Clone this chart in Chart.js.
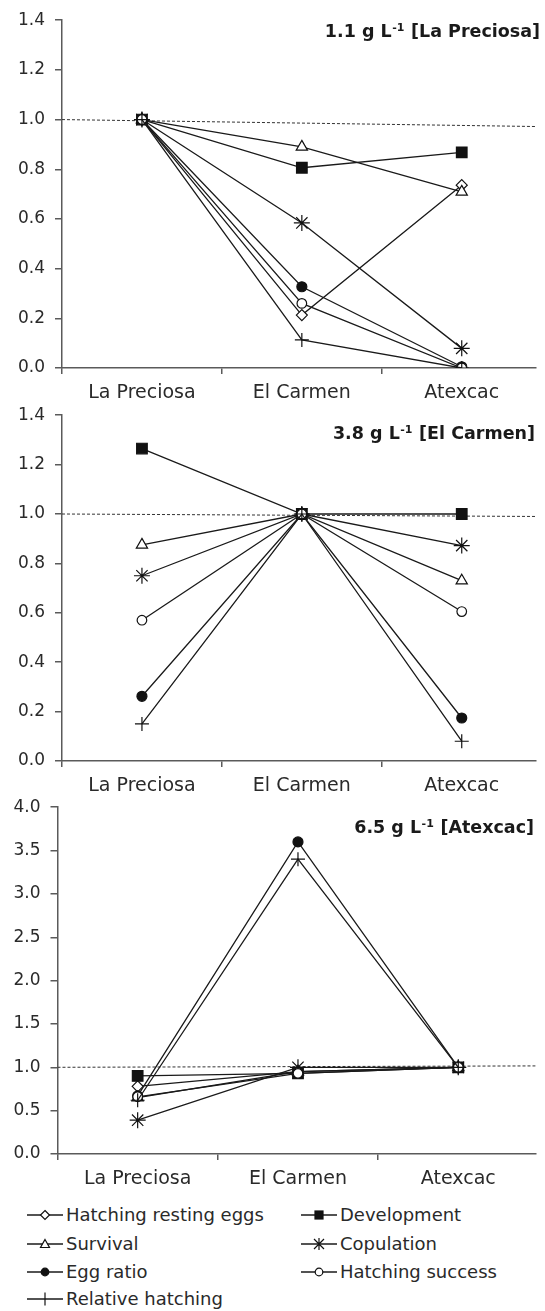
<!DOCTYPE html>
<html><head><meta charset="utf-8">
<script src="https://cdn.jsdelivr.net/npm/chart.js@4.4.1/dist/chart.umd.min.js"></script>
<style>
html,body{margin:0;padding:0;background:#fff;}
body{width:545px;height:1311px;position:relative;overflow:hidden;font-family:"DejaVu Sans",sans-serif;}
canvas{position:absolute;left:0;}
.leg{position:absolute;height:20px;font-size:18px;color:#2a2a2a;line-height:20px;white-space:nowrap;}
.leg svg{position:absolute;left:0;top:3px;}
.leg span{position:absolute;top:0;}
</style></head><body>
<canvas id="c1" width="545" height="410" style="top:0px"></canvas>
<canvas id="c2" width="545" height="408" style="top:395px"></canvas>
<canvas id="c3" width="545" height="398" style="top:787px"></canvas>
<div id="legend"></div>
<script>
// ---------- DATA ----------
const categories = ['La Preciosa', 'El Carmen', 'Atexcac'];
const seriesNames = ['Hatching resting eggs', 'Development', 'Survival', 'Copulation', 'Egg ratio', 'Hatching success', 'Relative hatching'];

// Panel 1: 1.1 g L-1 [La Preciosa]
const p1HatchingRestingEggs = [1.0, 0.213, 0.736];
const p1Development        = [1.0, 0.806, 0.868];
const p1Survival           = [1.0, 0.89, 0.709];
const p1Copulation         = [1.0, 0.584, 0.079];
const p1EggRatio           = [1.0, 0.327, 0.005];
const p1HatchingSuccess    = [1.0, 0.26, 0.0];
const p1RelativeHatching   = [1.0, 0.113, 0.0];
const p1RefLine            = [1.0, 0.972];

// Panel 2: 3.8 g L-1 [El Carmen]
const p2HatchingRestingEggs = [null, 1.0, null];
const p2Development        = [1.265, 1.0, 1.0];
const p2Survival           = [0.875, 1.0, 0.73];
const p2Copulation         = [0.75, 1.0, 0.872];
const p2EggRatio           = [0.262, 1.0, 0.174];
const p2HatchingSuccess    = [0.57, 1.0, 0.605];
const p2RelativeHatching   = [0.15, 1.0, 0.08];
const p2RefLine            = [1.0, 0.99];

// Panel 3: 6.5 g L-1 [Atexcac]
const p3HatchingRestingEggs = [0.78, 0.95, 1.0];
const p3Development        = [0.9, 0.93, 1.0];
const p3Survival           = [0.65, 0.95, 1.0];
const p3Copulation         = [0.39, 1.0, 1.0];
const p3EggRatio           = [0.67, 3.6, 1.0];
const p3HatchingSuccess    = [0.66, 0.93, 1.0];
const p3RelativeHatching   = [0.62, 3.4, 1.0];
const p3RefLine            = [1.0, 1.016];

// Tick values
const yTicks12 = [0, 0.2, 0.4, 0.6, 0.8, 1.0, 1.2, 1.4];
const yTicks3  = [0, 0.5, 1.0, 1.5, 2.0, 2.5, 3.0, 3.5, 4.0];

// Titles
const titles = [
  {pre: '1.1 g L', sup: '-1', post: ' [La Preciosa]'},
  {pre: '3.8 g L', sup: '-1', post: ' [El Carmen]'},
  {pre: '6.5 g L', sup: '-1', post: ' [Atexcac]'}
];

// ---------- STYLES ----------
const markerStyles = [
  {pointStyle: 'rectRot',  radius: 5.5, fill: '#ffffff'},
  {pointStyle: 'rect',     radius: 7.5, fill: '#111111'},
  {pointStyle: 'triangle', radius: 6.5, fill: '#ffffff'},
  {pointStyle: 'star',     radius: 8,   fill: '#ffffff'},
  {pointStyle: 'circle',   radius: 5,   fill: '#111111'},
  {pointStyle: 'circle',   radius: 4.8, fill: '#ffffff'},
  {pointStyle: 'cross',    radius: 7,   fill: '#ffffff'}
];
const AX = '#5a5a5a';
const TXT = '#2a2a2a';
const FONT = '"DejaVu Sans", sans-serif';

const titlePlugin = {
  id: 'panelTitle',
  afterDraw(chart, args, o) {
    const ctx = chart.ctx;
    ctx.save();
    const big = 'bold 17.5px ' + FONT, small = 'bold 11px ' + FONT;
    ctx.font = big;
    const w1 = ctx.measureText(o.pre).width, w3 = ctx.measureText(o.post).width;
    ctx.font = small;
    const w2 = ctx.measureText(o.sup).width;
    let x = o.right - (w1 + w2 + w3 + 1);
    ctx.fillStyle = '#1a1a1a';
    ctx.textAlign = 'left';
    ctx.textBaseline = 'alphabetic';
    ctx.font = big; ctx.fillText(o.pre, x, o.y); x += w1;
    ctx.font = small; ctx.fillText(o.sup, x + 0.5, o.y - 6); x += w2 + 1;
    ctx.font = big; ctx.fillText(o.post, x, o.y);
    ctx.restore();
  }
};

function makePanel(id, seriesArrays, refLine, yMax, yTickVals, geom, title) {
  const xMax = (545 - geom.left) / geom.band;
  const datasets = seriesArrays.map((arr, i) => {
    const s = markerStyles[i];
    return {
      label: seriesNames[i],
      data: arr.map((v, k) => ({x: k + 0.5, y: v})),
      borderColor: '#1a1a1a',
      borderWidth: 1.3,
      pointStyle: s.pointStyle,
      pointRadius: s.radius,
      pointBackgroundColor: s.fill,
      pointBorderColor: '#111',
      pointBorderWidth: 1.2,
      tension: 0,
      spanGaps: false,
      order: 7 - i
    };
  });
  datasets.push({
    label: 'ref',
    data: [{x: 0, y: refLine[0]}, {x: xMax, y: refLine[1]}],
    borderColor: '#333',
    borderWidth: 1,
    borderDash: [3, 2],
    pointRadius: 0,
    order: 20
  });
  return new Chart(document.getElementById(id), {
    type: 'line',
    data: {datasets},
    plugins: [titlePlugin],
    options: {
      responsive: false,
      animation: false,
      devicePixelRatio: 1,
      layout: {padding: {top: geom.top, right: 0, left: 0, bottom: 0}},
      plugins: {
        legend: {display: false},
        tooltip: {enabled: false},
        panelTitle: {pre: title.pre, sup: title.sup, post: title.post, right: geom.titleRight, y: geom.titleY}
      },
      scales: {
        x: {
          type: 'linear', position: 'bottom', min: 0, max: xMax, weight: 0,
          ticks: {display: false, stepSize: 1, includeBounds: false},
          grid: {display: true, drawOnChartArea: false, drawTicks: true, tickLength: 6, color: AX, lineWidth: 1.5},
          border: {display: true, color: AX, width: 1.5},
          afterFit: s => { s.height = 6; }
        },
        x2: {
          type: 'linear', position: 'bottom', min: 0, max: xMax, weight: 1,
          afterBuildTicks: s => { s.ticks = categories.map((c, k) => ({value: k + 0.5})); },
          ticks: {autoSkip: false, maxRotation: 0, padding: geom.labelPad,
                  font: {family: FONT, size: 19}, color: TXT,
                  callback: (v, k) => categories[k]},
          grid: {display: false, drawTicks: false},
          border: {display: false},
          afterFit: s => { s.height = geom.x2h; }
        },
        y: {
          min: 0, max: yMax,
          afterBuildTicks: s => { s.ticks = yTickVals.map(v => ({value: v})); },
          ticks: {font: {family: FONT, size: 17}, color: TXT, padding: 10,
                  callback: v => v.toFixed(1)},
          grid: {display: true, drawOnChartArea: false, drawTicks: true, tickLength: 7, color: AX, lineWidth: 1.5},
          border: {display: true, color: AX, width: 1.5},
          afterFit: s => { s.width = geom.left; }
        }
      }
    }
  });
}

makePanel('c1',
  [p1HatchingRestingEggs, p1Development, p1Survival, p1Copulation, p1EggRatio, p1HatchingSuccess, p1RelativeHatching],
  p1RefLine, 1.4, yTicks12,
  {left: 62, band: 163, top: 20, x2h: 36, labelPad: 8, titleRight: 540, titleY: 37}, titles[0]);
makePanel('c2',
  [p2HatchingRestingEggs, p2Development, p2Survival, p2Copulation, p2EggRatio, p2HatchingSuccess, p2RelativeHatching],
  p2RefLine, 1.4, yTicks12,
  {left: 62, band: 163, top: 20, x2h: 36, labelPad: 8, titleRight: 535, titleY: 44}, titles[1]);
makePanel('c3',
  [p3HatchingRestingEggs, p3Development, p3Survival, p3Copulation, p3EggRatio, p3HatchingSuccess, p3RelativeHatching],
  p3RefLine, 4.0, yTicks3,
  {left: 57.5, band: 163.4, top: 20, x2h: 25, labelPad: 8, titleRight: 534, titleY: 46}, titles[2]);

// ---------- LEGEND (HTML) ----------
function legendSvg(i) {
  const s = markerStyles[i];
  const cx = 18, cy = 7;
  let m = '';
  const st = 'stroke="#111" stroke-width="1.2"';
  switch (s.pointStyle) {
    case 'rectRot': m = `<polygon points="${cx},${cy-4.5} ${cx+4.5},${cy} ${cx},${cy+4.5} ${cx-4.5},${cy}" fill="#fff" ${st}/>`; break;
    case 'rect': m = `<rect x="${cx-4}" y="${cy-4}" width="8" height="8" fill="#111" ${st}/>`; break;
    case 'triangle': m = `<polygon points="${cx},${cy-4.5} ${cx+4.5},${cy+3.5} ${cx-4.5},${cy+3.5}" fill="#fff" ${st}/>`; break;
    case 'star': m = `<path d="M${cx-5},${cy-5}L${cx+5},${cy+5}M${cx+5},${cy-5}L${cx-5},${cy+5}M${cx},${cy-6}L${cx},${cy+6}" ${st} fill="none"/>`; break;
    case 'circle': m = `<circle cx="${cx}" cy="${cy}" r="3.8" fill="${s.fill}" ${st}/>`; break;
    case 'cross': m = `<path d="M${cx},${cy-6.5}L${cx},${cy+6.5}" ${st}/>`; break;
  }
  return `<svg width="37" height="14"><line x1="0" y1="${cy}" x2="36" y2="${cy}" stroke="#1a1a1a" stroke-width="1.3"/>${m}</svg>`;
}
const legendPos = [
  {x: 27, y: 1215}, {x: 301, y: 1215},
  {x: 27, y: 1244}, {x: 301, y: 1244},
  {x: 27, y: 1272}, {x: 301, y: 1272},
  {x: 27, y: 1299}
];
const legendEl = document.getElementById('legend');
seriesNames.forEach((name, i) => {
  const d = document.createElement('div');
  d.className = 'leg';
  d.style.left = legendPos[i].x + 'px';
  d.style.top = (legendPos[i].y - 10) + 'px';
  d.innerHTML = legendSvg(i) + `<span style="left:39px">${name}</span>`;
  legendEl.appendChild(d);
});
</script>
</body></html>
